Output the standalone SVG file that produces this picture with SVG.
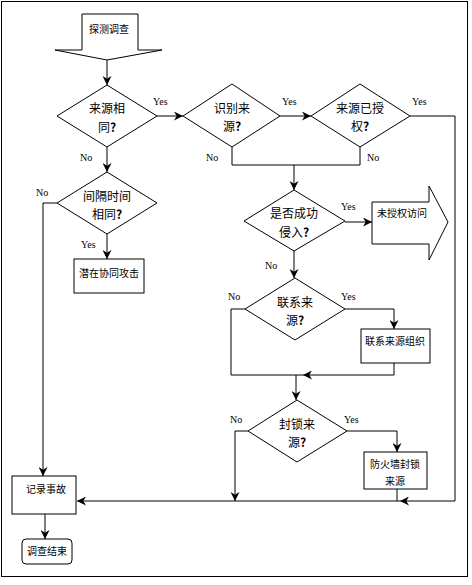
<svg xmlns="http://www.w3.org/2000/svg" width="472" height="585" viewBox="0 0 472 585">
<style>
.s{fill:#fff;stroke:#000;stroke-width:1}
.c{fill:none;stroke:#000;stroke-width:1}
.d{font-family:"Noto Sans CJK SC","Noto Sans CJK TC",sans-serif;font-size:12px;text-anchor:middle;fill:#000}
.b{font-family:"Noto Sans CJK SC","Noto Sans CJK TC",sans-serif;font-size:10px;text-anchor:middle;fill:#000}
.l{font-family:"Liberation Serif",serif;font-size:10px;fill:#000}
.q{font-weight:bold}
</style>
<defs>
<marker id="a" viewBox="0 0 10 10" refX="10" refY="5" markerWidth="9" markerHeight="9" markerUnits="userSpaceOnUse" orient="auto">
<path d="M0,0 L10,5 L0,10 L3,5 z" fill="#000"/>
</marker>
</defs>
<rect x="1.5" y="1.5" width="466" height="575" fill="#fff" stroke="#000"/>
<g id="connectors">
<path class="c" d="M107,60 V85" marker-end="url(#a)"/>
<path class="c" d="M157,116 H183" marker-end="url(#a)"/>
<path class="c" d="M280,116 H311" marker-end="url(#a)"/>
<path class="c" d="M410,116 H455 V501 H400" marker-end="url(#a)"/>
<path class="c" d="M400,501 H77" marker-end="url(#a)"/>
<path class="c" d="M232,147 V165 H360 V147"/>
<path class="c" d="M294,165 V190" marker-end="url(#a)"/>
<path class="c" d="M107,147 V172" marker-end="url(#a)"/>
<path class="c" d="M57,203 H43 V476" marker-end="url(#a)"/>
<path class="c" d="M107,234 V259" marker-end="url(#a)"/>
<path class="c" d="M345,222 H372" marker-end="url(#a)"/>
<path class="c" d="M294,251 V278" marker-end="url(#a)"/>
<path class="c" d="M345,309 H394 V329" marker-end="url(#a)"/>
<path class="c" d="M245,309 H231 V375 H296"/>
<path class="c" d="M394,363 V375 H303" marker-end="url(#a)"/>
<path class="c" d="M303,375 H296"/>
<path class="c" d="M296,375 V400" marker-end="url(#a)"/>
<path class="c" d="M347,431 H397 V452" marker-end="url(#a)"/>
<path class="c" d="M248,431 H235 V501" marker-end="url(#a)"/>
<path class="c" d="M397,489 V501"/>
<path class="c" d="M45,514 V539" marker-end="url(#a)"/>
<text class="l" x="153" y="105">Yes</text>
<text class="l" x="282" y="105">Yes</text>
<text class="l" x="412" y="105">Yes</text>
<text class="l" x="80" y="161">No</text>
<text class="l" x="206" y="161">No</text>
<text class="l" x="367" y="161">No</text>
<text class="l" x="36" y="196">No</text>
<text class="l" x="81" y="248">Yes</text>
<text class="l" x="341" y="210">Yes</text>
<text class="l" x="265" y="269">No</text>
<text class="l" x="341" y="300">Yes</text>
<text class="l" x="228" y="300">No</text>
<text class="l" x="344" y="423">Yes</text>
<text class="l" x="230" y="423">No</text>
</g>
<g id="start">
<path class="s" d="M82,14 H138 V50 H162 L107,60 L55,50 H82 Z"/>
<text class="b" x="109" y="33">探测调查</text>
</g>
<g id="d1">
<path class="s" d="M107,85 L157,116 L107,147 L57,116 Z"/>
<text class="d" x="107" y="113">来源相</text>
<text class="d" x="107" y="132">同<tspan class="q">?</tspan></text>
</g>
<g id="d2">
<path class="s" d="M232,84 L280,116 L232,147 L183,116 Z"/>
<text class="d" x="232" y="113">识别来</text>
<text class="d" x="232" y="131">源<tspan class="q">?</tspan></text>
</g>
<g id="d3">
<path class="s" d="M360,84 L410,116 L360,147 L311,116 Z"/>
<text class="d" x="360" y="113">来源已授</text>
<text class="d" x="360" y="131">权<tspan class="q">?</tspan></text>
</g>
<g id="d5">
<path class="s" d="M107,172 L157,203 L107,234 L57,203 Z"/>
<text class="d" x="107" y="201">间隔时间</text>
<text class="d" x="107" y="219">相同<tspan class="q">?</tspan></text>
</g>
<g id="b1">
<rect class="s" x="74" y="259" width="70" height="34"/>
<text class="b" x="109" y="277">潜在协同攻击</text>
</g>
<g id="d4">
<path class="s" d="M294,190 L345,221 L294,251 L244,221 Z"/>
<text class="d" x="294" y="218">是否成功</text>
<text class="d" x="294" y="237">侵入<tspan class="q">?</tspan></text>
</g>
<g id="unauth">
<path class="s" d="M372,202 H429 V186 L448,222 L429,260 V244 H372 Z"/>
<text class="b" x="402" y="217">未授权访问</text>
</g>
<g id="d6">
<path class="s" d="M295,278 L345,309 L295,340 L245,309 Z"/>
<text class="d" x="295" y="307">联系来</text>
<text class="d" x="295" y="325">源<tspan class="q">?</tspan></text>
</g>
<g id="b2">
<rect class="s" x="361" y="329" width="69" height="34"/>
<text class="b" x="395" y="345">联系来源组织</text>
</g>
<g id="d7">
<path class="s" d="M297,400 L347,431 L297,462 L248,431 Z"/>
<text class="d" x="297" y="429">封锁来</text>
<text class="d" x="297" y="447">源<tspan class="q">?</tspan></text>
</g>
<g id="b3">
<rect class="s" x="364" y="452" width="63" height="37"/>
<text class="b" x="395" y="468">防火墙封锁</text>
<text class="b" x="395" y="485">来源</text>
</g>
<g id="record">
<rect class="s" x="12" y="476" width="64" height="38"/>
<text class="b" x="46" y="493">记录事故</text>
</g>
<g id="end">
<rect class="s" x="22" y="539" width="50" height="25" rx="4"/>
<text class="b" x="47" y="555">调查结束</text>
</g>
</svg>
